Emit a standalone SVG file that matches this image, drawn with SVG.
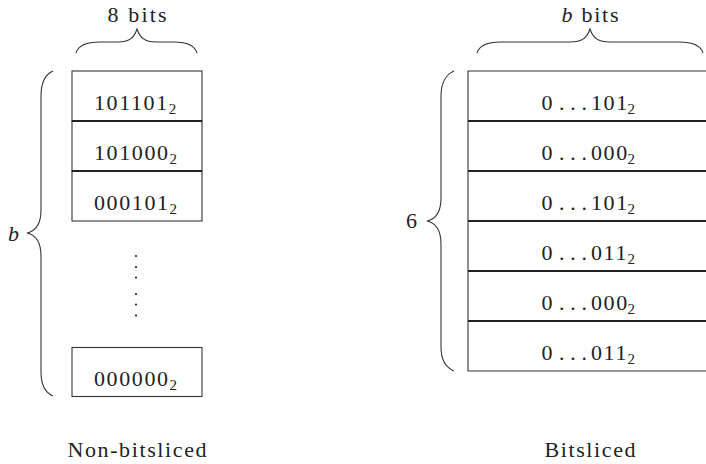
<svg xmlns="http://www.w3.org/2000/svg" width="706" height="464" viewBox="0 0 706 464" font-family="'Liberation Serif', 'DejaVu Serif', 'Times New Roman', serif">
<style>
text{font-family:'Liberation Serif','DejaVu Serif','Times New Roman',serif;font-size:22px;fill:#222}
.box{fill:#fff;stroke:#333;stroke-width:1.1}
.sep{stroke:#222;stroke-width:2}
.brace{fill:none;stroke:#333;stroke-width:1.1}
.num{letter-spacing:1.6px}
.sub{font-size:15px;letter-spacing:0}
.dot{fill:#222}
</style>
<rect width="706" height="464" fill="#fff"/>
<g id="braces">
<path class="brace" d="M76,53 C78,46 86,42 100,42 L118,42 C129,42 134,38 137,29 C140,38 145,42 156,42 L174,42 C188,42 195,46 197,53"/>
<path class="brace" d="M477,53 C479,46 487,42 501,42 L570,42 C582,42 587,38 590,29 C593,38 598,42 610,42 L679,42 C693,42 701,46 703,53"/>
<path class="brace" d="M53,71 C46,74 41,82 41,96 L41,210 C41,224 36,231 27,233 C36,235 41,242 41,256 L41,372 C41,386 46,393 53,396"/>
<path class="brace" d="M454,71 C447,74 441,82 441,96 L441,198 C441,212 436,219 427,221 C436,223 441,230 441,244 L441,347 C441,361 447,368 454,371"/>
</g>
<g id="labels">
<text x="137" y="21.5" text-anchor="middle" textLength="59">8 bits</text>
<text x="590" y="21.5" text-anchor="middle" textLength="57"><tspan font-style="italic">b</tspan> bits</text>
<text x="8" y="240.5" font-style="italic">b</text>
<text x="406" y="228">6</text>
<text x="137" y="456.5" text-anchor="middle" textLength="139">Non-bitsliced</text>
<text x="590" y="457" text-anchor="middle" textLength="91">Bitsliced</text>
</g>
<g id="non-bitsliced">
<g id="nb-row1">
<rect class="box" x="72" y="71" width="130" height="50"/>
<text class="num" x="94" y="109.5">101101<tspan class="sub" dy="4">2</tspan></text>
</g>
<g id="nb-row2">
<rect class="box" x="72" y="121" width="130" height="50"/>
<text class="num" x="94" y="159.5">101000<tspan class="sub" dy="4">2</tspan></text>
</g>
<g id="nb-row3">
<rect class="box" x="72" y="171" width="130" height="50"/>
<text class="num" x="94" y="209.5">000101<tspan class="sub" dy="4">2</tspan></text>
</g>
<line class="sep" x1="72" y1="121" x2="202" y2="121"/>
<line class="sep" x1="72" y1="171" x2="202" y2="171"/>
<g id="nb-vdots">
<circle class="dot" cx="136" cy="256" r="1.1"/>
<circle class="dot" cx="136" cy="267" r="1.1"/>
<circle class="dot" cx="136" cy="277.5" r="1.1"/>
<circle class="dot" cx="136" cy="294" r="1.1"/>
<circle class="dot" cx="136" cy="304.5" r="1.1"/>
<circle class="dot" cx="136" cy="315.5" r="1.1"/>
</g>
<g id="nb-rowlast">
<rect class="box" x="72" y="347.5" width="130" height="49"/>
<text class="num" x="94" y="386">000000<tspan class="sub" dy="4">2</tspan></text>
</g>
</g>
<g id="bitsliced">
<path class="box" fill="none" d="M706,71 H468 V371 H706"/>
<g id="bs-row1">
<text y="109.5"><tspan x="541.5">0</tspan><tspan x="559">.</tspan><tspan x="570.3">.</tspan><tspan x="581.6">.</tspan><tspan class="num" x="591">101</tspan><tspan class="sub" x="627.5" dy="4">2</tspan></text>
</g>
<g id="bs-row2">
<text y="159.5"><tspan x="541.5">0</tspan><tspan x="559">.</tspan><tspan x="570.3">.</tspan><tspan x="581.6">.</tspan><tspan class="num" x="591">000</tspan><tspan class="sub" x="627.5" dy="4">2</tspan></text>
</g>
<g id="bs-row3">
<text y="209.5"><tspan x="541.5">0</tspan><tspan x="559">.</tspan><tspan x="570.3">.</tspan><tspan x="581.6">.</tspan><tspan class="num" x="591">101</tspan><tspan class="sub" x="627.5" dy="4">2</tspan></text>
</g>
<g id="bs-row4">
<text y="259.5"><tspan x="541.5">0</tspan><tspan x="559">.</tspan><tspan x="570.3">.</tspan><tspan x="581.6">.</tspan><tspan class="num" x="591">011</tspan><tspan class="sub" x="627.5" dy="4">2</tspan></text>
</g>
<g id="bs-row5">
<text y="309.5"><tspan x="541.5">0</tspan><tspan x="559">.</tspan><tspan x="570.3">.</tspan><tspan x="581.6">.</tspan><tspan class="num" x="591">000</tspan><tspan class="sub" x="627.5" dy="4">2</tspan></text>
</g>
<g id="bs-row6">
<text y="359.5"><tspan x="541.5">0</tspan><tspan x="559">.</tspan><tspan x="570.3">.</tspan><tspan x="581.6">.</tspan><tspan class="num" x="591">011</tspan><tspan class="sub" x="627.5" dy="4">2</tspan></text>
</g>
<line class="sep" x1="468" y1="121" x2="706" y2="121"/>
<line class="sep" x1="468" y1="171" x2="706" y2="171"/>
<line class="sep" x1="468" y1="221" x2="706" y2="221"/>
<line class="sep" x1="468" y1="271" x2="706" y2="271"/>
<line class="sep" x1="468" y1="321" x2="706" y2="321"/>
</g>
</svg>
